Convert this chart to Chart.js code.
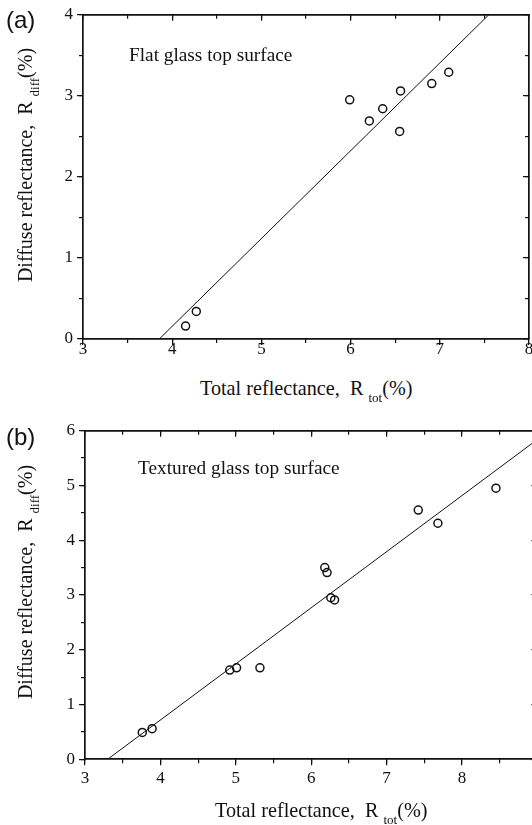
<!DOCTYPE html>
<html><head><meta charset="utf-8">
<script src="https://cdn.jsdelivr.net/npm/chart.js@4/dist/chart.umd.min.js"></script>
<style>
html,body{margin:0;padding:0;background:#fff;width:532px;height:825px;overflow:hidden;position:relative}
canvas{position:absolute;left:0}
.t{position:absolute;font-family:"Liberation Serif","Times New Roman",serif;color:#111;white-space:nowrap;line-height:1}
.xt{font-size:20.2px}
.yt{font-size:20px;transform:translate(-50%,-50%) rotate(-90deg)}
.sb{font-size:13px;position:relative;top:7px}
.ann{font-size:19.3px}
.pl{position:absolute;font-family:"Liberation Sans",Arial,sans-serif;font-size:24px;line-height:1;color:#111}
</style></head>
<body>
<canvas id="ca" width="532" height="370" style="top:0"></canvas>
<canvas id="cb" width="545" height="400" style="top:400px"></canvas>
<div class="pl" style="left:6px;top:8px">(a)</div>
<div class="pl" style="left:6px;top:424.7px">(b)</div>
<div class="t ann" style="left:129px;top:44.8px">Flat glass top surface</div>
<div class="t ann" style="left:138px;top:457.8px">Textured glass top surface</div>
<div class="t xt" style="left:200px;top:378px">Total reflectance,&nbsp; R <span class="sb">tot</span>(%)</div>
<div class="t xt" style="left:215px;top:800px">Total reflectance,&nbsp; R <span class="sb">tot</span>(%)</div>
<div class="t yt" style="left:25px;top:165px">Diffuse reflectance,&nbsp; R <span class="sb">diff</span>(%)</div>
<div class="t yt" style="left:25px;top:582px">Diffuse reflectance,&nbsp; R <span class="sb">diff</span>(%)</div>
<script>
// ---- data: panel (a) flat glass ----
const rTotA  = [5.99, 6.21, 6.36, 6.56, 6.55, 6.91, 7.10, 4.15, 4.27];
const rDiffA = [2.95, 2.69, 2.84, 3.06, 2.56, 3.15, 3.29, 0.16, 0.34];
const fitXA = [3.855, 7.55];
const fitYA = [0, 4];
const xTicksA = [3, 4, 5, 6, 7, 8];
const yTicksA = [0, 1, 2, 3, 4];
// ---- data: panel (b) textured glass ----
const rTotB  = [3.76, 3.89, 4.92, 5.01, 5.32, 6.18, 6.21, 6.26, 6.31, 7.42, 7.68, 8.45];
const rDiffB = [0.49, 0.56, 1.63, 1.67, 1.67, 3.50, 3.41, 2.95, 2.91, 4.55, 4.31, 4.95];
const fitXB = [3.30, 9.0];
const fitYB = [0, 5.84];
const xTicksB = [3, 4, 5, 6, 7, 8, 9];
const yTicksB = [0, 1, 2, 3, 4, 5, 6];

const INK = '#111';
const TF = {family: '"Liberation Serif","Times New Roman",serif', size: 17};

function setTicks(arr){ return s => { s.ticks = arr.map(v => ({value: v})); }; }
function zeroH(s){ s.height = 0; }
function zeroW(s){ s.width = 0; }

function buildScales(xr, yr, xMajor, yMajor, leftW, bottomH, xPad){
  const g = (len) => ({drawOnChartArea:false, drawTicks:true, tickLength:len, color:INK, lineWidth:1.2});
  const noB = {display:false};
  const B = {display:true, color:INK, width:1.7};
  return {
    x:  {type:'linear', position:'bottom', weight:1, min:xr[0], max:xr[1], afterBuildTicks:setTicks(xMajor),
         ticks:{font:TF, color:INK, padding:xPad, maxRotation:0, autoSkip:false, callback:v=>String(v)},
         grid:g(6), border:B, afterFit:s=>{s.height=bottomH;}},
    xm: {type:'linear', position:'bottom', weight:0, min:xr[0], max:xr[1],
         ticks:{display:false, stepSize:0.5}, grid:g(4), border:noB, afterFit:zeroH},
    xt: {type:'linear', position:'top', min:xr[0], max:xr[1], afterBuildTicks:setTicks(xMajor),
         ticks:{display:false}, grid:g(-6), border:B, afterFit:zeroH},
    xtm:{type:'linear', position:'top', min:xr[0], max:xr[1],
         ticks:{display:false, stepSize:0.5}, grid:g(-4), border:noB, afterFit:zeroH},
    y:  {type:'linear', position:'left', weight:1, min:yr[0], max:yr[1], afterBuildTicks:setTicks(yMajor),
         ticks:{font:TF, color:INK, padding:4, autoSkip:false, callback:v=>String(v)},
         grid:g(6), border:B, afterFit:s=>{s.width=leftW;}},
    ym: {type:'linear', position:'left', weight:0, min:yr[0], max:yr[1],
         ticks:{display:false, stepSize:0.5}, grid:g(4), border:noB, afterFit:zeroW},
    yr: {type:'linear', position:'right', min:yr[0], max:yr[1], afterBuildTicks:setTicks(yMajor),
         ticks:{display:false}, grid:g(-6), border:B, afterFit:zeroW},
    yrm:{type:'linear', position:'right', min:yr[0], max:yr[1],
         ticks:{display:false, stepSize:0.5}, grid:g(-4), border:noB, afterFit:zeroW}
  };
}

function makeChart(id, xs, ys, fx, fy, xr, yr, xMajor, yMajor, pad, leftW, bottomH, xPad){
  const pts = xs.map((v,i)=>({x:v, y:ys[i]}));
  const fit = fx.map((v,i)=>({x:v, y:fy[i]}));
  return new Chart(document.getElementById(id), {
    type:'scatter',
    data:{datasets:[
      {type:'line', data:fit, borderColor:INK, borderWidth:1, pointRadius:0, fill:false, tension:0, xAxisID:'x', yAxisID:'y'},
      {type:'scatter', data:pts, pointStyle:'circle', pointRadius:4, borderWidth:1.5, borderColor:INK, backgroundColor:'rgba(255,255,255,0)', xAxisID:'x', yAxisID:'y'}
    ]},
    options:{
      responsive:false, animation:false, devicePixelRatio:1,
      layout:{padding:pad, autoPadding:false},
      plugins:{legend:{display:false}, tooltip:{enabled:false}},
      scales: buildScales(xr, yr, xMajor, yMajor, leftW, bottomH, xPad)
    }
  });
}

makeChart('ca', rTotA, rDiffA, fitXA, fitYA, [3,8], [0,4], xTicksA, yTicksA,
  {left:0, top:14.7, right:3, bottom:0}, 83, 31, -6);
makeChart('cb', rTotB, rDiffB, fitXB, fitYB, [3,9], [0,6], xTicksB, yTicksB,
  {left:0, top:30.7, right:7.6, bottom:0}, 85, 40.7, 3);
</script>
</body></html>
